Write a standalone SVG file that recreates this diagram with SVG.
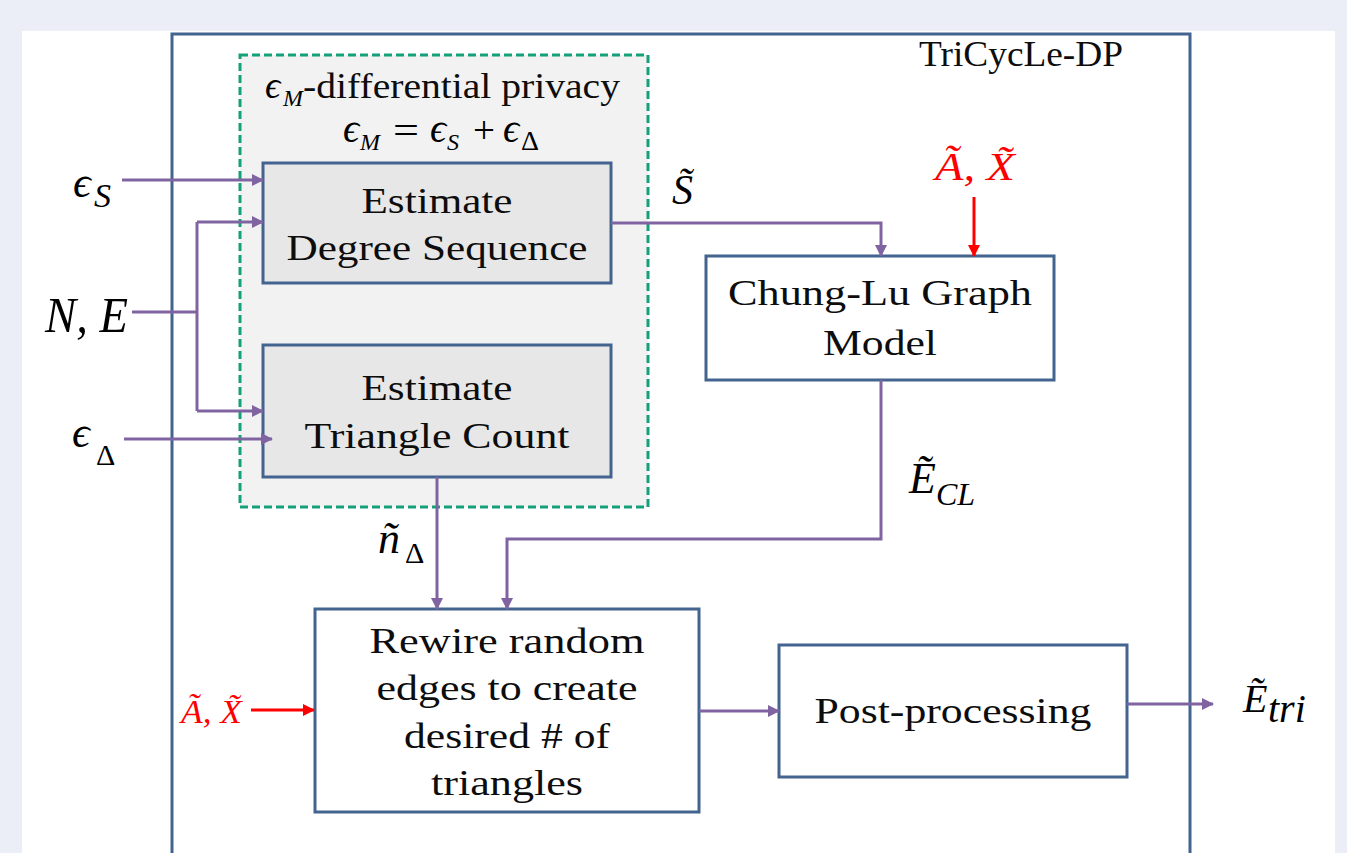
<svg xmlns="http://www.w3.org/2000/svg" width="1347" height="853" viewBox="0 0 1347 853">
<defs>
<marker id="ap" markerUnits="userSpaceOnUse" markerWidth="12" markerHeight="12" refX="11" refY="6" orient="auto"><path d="M0,0 L12,6 L0,12 z" fill="#8064a2"/></marker>
<marker id="ar" markerUnits="userSpaceOnUse" markerWidth="12" markerHeight="12" refX="11" refY="6" orient="auto"><path d="M0,0 L12,6 L0,12 z" fill="#ff0000"/></marker>
<style>
.box{fill:#ffffff;stroke:#42648f;stroke-width:3}
.gbox{fill:#e7e7e7;stroke:#42648f;stroke-width:3}
.t{font-family:"Liberation Serif","Times New Roman",serif;font-size:36px;fill:#0d0d0d;text-anchor:middle}
.m{font-family:"Liberation Serif","DejaVu Serif",serif;font-style:italic;fill:#000000}
.u{font-family:"Liberation Serif","DejaVu Serif",serif;fill:#000000}
.red{fill:#ff0000}
.c{fill:none;stroke:#8064a2;stroke-width:3}
.r{fill:none;stroke:#ff0000;stroke-width:3}
</style>
</defs>
<rect x="0" y="0" width="1347" height="853" fill="#ebeef6"/>
<rect x="22" y="31" width="1313" height="830" fill="#ffffff"/>

<g id="tricycle">
<rect x="172" y="34" width="1018" height="840" fill="none" stroke="#42648f" stroke-width="3"/>
<text class="t" x="1021" y="66" font-size="34" textLength="204" lengthAdjust="spacingAndGlyphs">TriCycLe-DP</text>
</g>

<g id="privacy-group">
<rect x="240" y="55" width="408" height="452" fill="#f2f2f2" stroke="#14a078" stroke-width="3" stroke-dasharray="8 4"/>
<text class="m" x="265" y="98" font-size="38">ϵ</text>
<text class="m" x="283" y="106" font-size="24">M</text>
<text class="t" x="303" y="98" font-size="32" style="text-anchor:start" textLength="317" lengthAdjust="spacingAndGlyphs">-differential privacy</text>
<text class="m" x="343" y="142" font-size="40">ϵ</text>
<text class="m" x="360" y="150" font-size="24">M</text>
<text class="u" x="393" y="143" font-size="38" textLength="26" lengthAdjust="spacingAndGlyphs">=</text>
<text class="m" x="430" y="142" font-size="40">ϵ</text>
<text class="m" x="447" y="150" font-size="24">S</text>
<text class="u" x="473" y="143" font-size="38" textLength="22" lengthAdjust="spacingAndGlyphs">+</text>
<text class="m" x="503" y="142" font-size="40">ϵ</text>
<text class="u" x="521" y="150" font-size="28">Δ</text>
</g>

<g id="degree">
<rect class="gbox" x="263" y="163" width="348" height="120"/>
<text class="t" x="437" y="213" textLength="151" lengthAdjust="spacingAndGlyphs">Estimate</text>
<text class="t" x="437" y="260" textLength="301" lengthAdjust="spacingAndGlyphs">Degree Sequence</text>
</g>

<g id="triangle">
<rect class="gbox" x="263" y="345" width="348" height="132"/>
<text class="t" x="437" y="400" textLength="151" lengthAdjust="spacingAndGlyphs">Estimate</text>
<text class="t" x="437" y="448" textLength="265" lengthAdjust="spacingAndGlyphs">Triangle Count</text>
</g>

<g id="chunglu">
<rect class="box" x="706" y="256" width="348" height="124"/>
<text class="t" x="880" y="305" textLength="304" lengthAdjust="spacingAndGlyphs">Chung-Lu Graph</text>
<text class="t" x="880" y="355" textLength="114" lengthAdjust="spacingAndGlyphs">Model</text>
</g>

<g id="rewire">
<rect class="box" x="315" y="609" width="384" height="203"/>
<text class="t" x="507" y="653" textLength="275" lengthAdjust="spacingAndGlyphs">Rewire random</text>
<text class="t" x="507" y="700" textLength="261" lengthAdjust="spacingAndGlyphs">edges to create</text>
<text class="t" x="507" y="748" textLength="206" lengthAdjust="spacingAndGlyphs">desired # of</text>
<text class="t" x="507" y="795" textLength="152" lengthAdjust="spacingAndGlyphs">triangles</text>
</g>

<g id="postprocessing">
<rect class="box" x="779" y="645" width="348" height="132"/>
<text class="t" x="953" y="723" textLength="277" lengthAdjust="spacingAndGlyphs">Post-processing</text>
</g>

<g id="labels">
<text class="m" x="73" y="197" font-size="44">ϵ</text>
<text class="m" x="94" y="207" font-size="34">S</text>
<text class="m" x="45" y="332" font-size="50" textLength="83" lengthAdjust="spacingAndGlyphs">N, E</text>
<text class="m" x="72" y="447" font-size="44">ϵ</text>
<text class="u" x="96" y="465" font-size="30">Δ</text>
<text class="m" x="672" y="204" font-size="42">S̃</text>
<text class="m red" x="935" y="180" font-size="40" textLength="80" lengthAdjust="spacingAndGlyphs">Ã, X̃</text>
<text class="m" x="909" y="493" font-size="44">Ẽ</text>
<text class="m" x="936" y="505" font-size="32">CL</text>
<text class="m" x="378" y="553" font-size="44">ñ</text>
<text class="u" x="405" y="563" font-size="30">Δ</text>
<text class="m red" x="181" y="723" font-size="34" textLength="61" lengthAdjust="spacingAndGlyphs">Ã, X̃</text>
<text class="m" x="1243" y="712" font-size="40">Ẽ</text>
<text class="m" x="1268" y="722" font-size="40">tri</text>
</g>

<g id="connectors">
<path class="c" d="M122,180 H263" marker-end="url(#ap)"/>
<path class="c" d="M132,312 H197"/>
<path class="c" d="M197,222 V411"/>
<path class="c" d="M197,222 H263" marker-end="url(#ap)"/>
<path class="c" d="M197,411 H263" marker-end="url(#ap)"/>
<path class="c" d="M124,439 H272" marker-end="url(#ap)"/>
<path class="c" d="M611,223 H881 V256" marker-end="url(#ap)"/>
<path class="r" d="M974,197 V256" marker-end="url(#ar)"/>
<path class="c" d="M881,380 V539 H507 V609" marker-end="url(#ap)"/>
<path class="c" d="M437,477 V609" marker-end="url(#ap)"/>
<path class="r" d="M251,710 H314" marker-end="url(#ar)"/>
<path class="c" d="M699,711 H779" marker-end="url(#ap)"/>
<path class="c" d="M1127,704 H1213" marker-end="url(#ap)"/>
</g>
</svg>
